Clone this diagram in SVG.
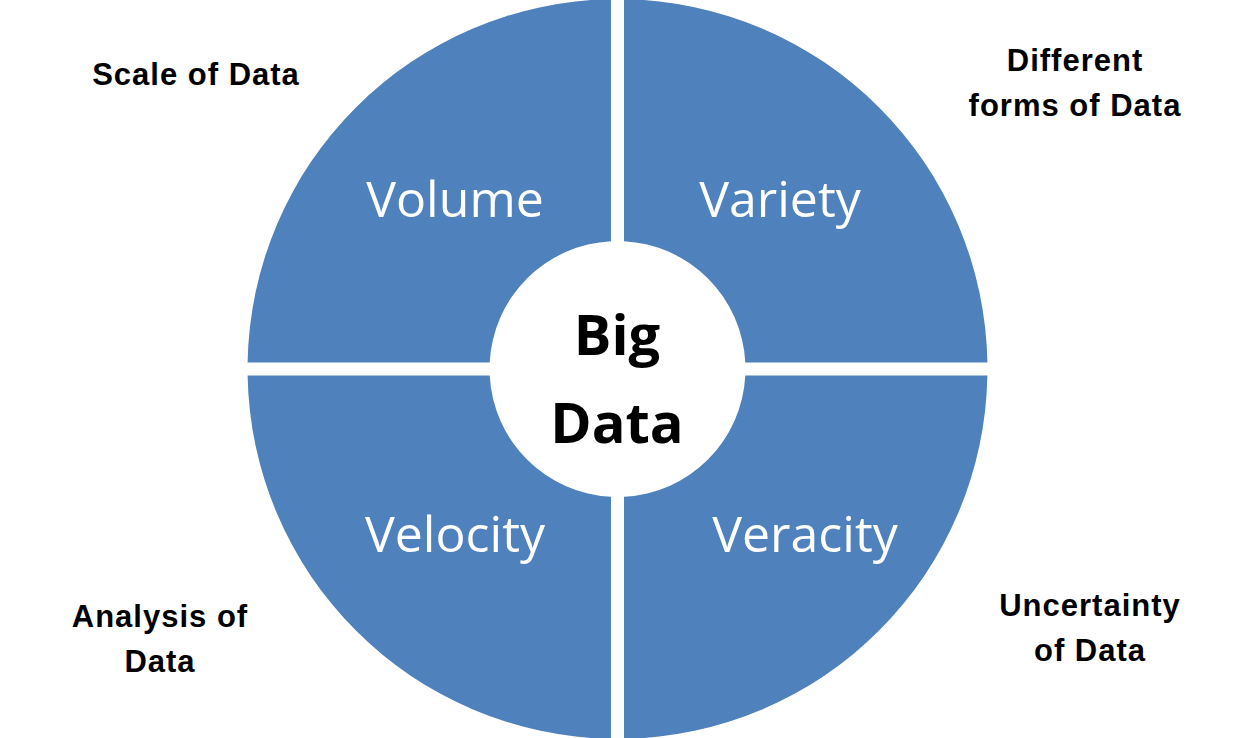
<svg xmlns="http://www.w3.org/2000/svg" width="1252" height="738" viewBox="0 0 1252 738">
<style>
.q{fill:#4f81bd}
.ql{font-family:"Open Sans","Noto Sans",sans-serif;font-size:50px;fill:#fff;text-anchor:middle}
.c{font-family:"Open Sans","Noto Sans",sans-serif;font-size:56px;font-weight:bold;fill:#000;text-anchor:middle}
.s{font-family:"Liberation Sans",Arial,sans-serif;font-size:31px;font-weight:bold;fill:#000;text-anchor:middle;letter-spacing:1px}
</style>
<rect width="1252" height="738" fill="#fff"/>
<g id="volume">
<path class="q" d="M611,241.2 L611,-0.9 A370,370 0 0 0 247.6,362.5 L489.7,362.5 A128,128 0 0 1 611,241.2 Z"/>
<text class="ql" x="455" y="217">Volume</text>
</g>
<g id="variety">
<path class="q" d="M624,241.2 L624,-0.9 A370,370 0 0 1 987.4,362.5 L745.3,362.5 A128,128 0 0 0 624,241.2 Z"/>
<text class="ql" x="780" y="217">Variety</text>
</g>
<g id="velocity">
<path class="q" d="M611,496.8 L611,738.9 A370,370 0 0 1 247.6,375.5 L489.7,375.5 A128,128 0 0 0 611,496.8 Z"/>
<text class="ql" x="455" y="552">Velocity</text>
</g>
<g id="veracity">
<path class="q" d="M624,496.8 L624,738.9 A370,370 0 0 0 987.4,375.5 L745.3,375.5 A128,128 0 0 1 624,496.8 Z"/>
<text class="ql" x="805" y="552">Veracity</text>
</g>
<g id="center">
<text class="c" x="617" y="355">Big</text>
<text class="c" x="617" y="443">Data</text>
</g>
<g id="labels">
<text class="s" x="196" y="85">Scale of Data</text>
<text class="s" x="1075" y="71">Different</text>
<text class="s" x="1075" y="116">forms of Data</text>
<text class="s" x="160" y="627">Analysis of</text>
<text class="s" x="160" y="672">Data</text>
<text class="s" x="1090" y="616">Uncertainty</text>
<text class="s" x="1090" y="661">of Data</text>
</g>
<g id="connectors"></g>
</svg>
